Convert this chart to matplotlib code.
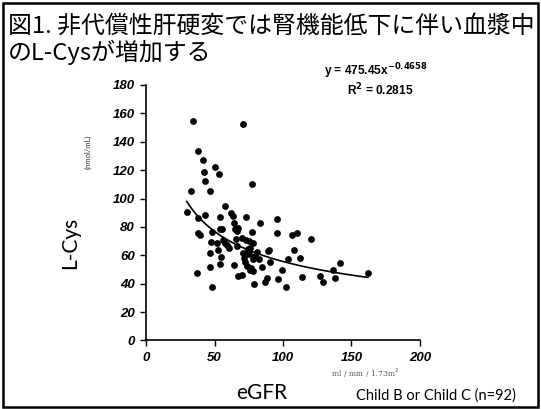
import numpy as np
import matplotlib
matplotlib.use("Agg")
import matplotlib.pyplot as plt
from matplotlib.patches import Rectangle

# eGFR (ml/min/1.73m2) and plasma L-Cys (nmol/mL)
egfr = [29.7, 32.8, 37.0, 37.7, 38.2, 39.2, 42.3, 43.3, 42.8, 46.5,
        46.7, 46.7, 47.4, 48.2, 48.4, 51.6, 52.8, 53.5, 54.0, 53.8,
        54.5, 54.0, 55.5, 56.0, 57.7, 57.4, 58.9, 60.8, 62.0, 63.3,
        64.5, 64.7, 66.2, 64.5, 65.7, 67.2, 67.2, 69.8, 70.1, 70.6,
        71.5, 72.3, 72.8, 73.0, 73.5, 74.2, 75.0, 75.4, 75.9, 76.6,
        77.2, 77.6, 78.3, 78.3, 78.8, 79.6, 80.8, 82.7, 83.2, 84.4,
        86.9, 88.5, 88.8, 89.6, 90.5, 95.8, 95.4, 96.4, 99.1, 102.2,
        103.9, 106.8, 108.0, 110.0, 112.4, 113.6, 120.4, 127.0, 129.0, 136.7,
        137.7, 141.8, 162.0, 34.5, 70.6, 37.7, 41.6, 50.4, 75.4, 78.3,
        66.6, 76.0]
lcys = [90.6, 105.5, 47.2, 86.4, 76.0, 74.1, 118.6, 112.6, 88.3, 105.1,
        61.3, 51.9, 69.4, 37.7, 76.5, 68.9, 63.7, 117.4, 87.1, 78.4,
        58.7, 54.0, 78.4, 70.8, 94.5, 68.9, 67.0, 65.4, 89.7, 87.8,
        83.1, 78.4, 77.2, 53.5, 71.3, 78.9, 45.2, 46.2, 72.5, 61.8,
        58.3, 55.2, 86.7, 70.8, 52.3, 64.2, 70.1, 60.6, 50.0, 51.2,
        76.7, 110.1, 48.8, 68.9, 39.9, 59.4, 62.3, 57.6, 82.6, 51.9,
        41.0, 44.1, 63.0, 63.5, 55.2, 85.5, 75.5, 43.4, 50.0, 37.7,
        57.1, 74.1, 63.7, 75.5, 58.3, 44.8, 71.3, 45.2, 41.0, 49.5,
        43.8, 54.3, 47.7, 154.6, 152.3, 133.5, 127.5, 122.1, 63.5, 57.1,
        66.5, 65.0]

# power fit shown on the chart
fit_a = 475.45
fit_b = -0.4658
r2 = 0.2815

xticks = [0, 50, 100, 150, 200]
yticks = [0, 20, 40, 60, 80, 100, 120, 140, 160, 180]

fig = plt.figure(figsize=(5.41, 4.09), dpi=100)
fig.patches.append(Rectangle((0.006, 0.006), 0.988, 0.986, transform=fig.transFigure,
                             fill=False, edgecolor="black", linewidth=1.8))

jp = ["Noto Sans CJK JP", "DejaVu Sans"]
fig.text(0.015, 0.935, "図1. 非代償性肝硬変では腎機能低下に伴い血漿中",
         fontsize=17.2, family=jp, va="center", ha="left")
fig.text(0.015, 0.872, "のL-Cysが増加する",
         fontsize=17.2, family=jp, va="center", ha="left")

ax = fig.add_axes([0.270, 0.1675, 0.506, 0.6247])
ax.scatter(egfr, lcys, s=24, color="black", zorder=3, linewidths=0)
xs = np.linspace(min(egfr), max(egfr), 200)
ax.plot(xs, fit_a * xs ** fit_b, color="black", linewidth=1.2)

ax.set_xlim(0, 200)
ax.set_ylim(0, 180)
ax.set_xticks(xticks)
ax.set_yticks(yticks)
for s in ["top", "right"]:
    ax.spines[s].set_visible(False)
for s in ["left", "bottom"]:
    ax.spines[s].set_linewidth(1.2)
ax.tick_params(direction="out", length=4, width=1.0, pad=4)
for lab in ax.get_xticklabels() + ax.get_yticklabels():
    lab.set_family("Liberation Sans")
    lab.set_fontweight("bold")
    lab.set_fontstyle("italic")
    lab.set_fontsize(9.5)

fig.text(0.695, 0.826, r"y = 475.45x$^{\mathbf{-0.4658}}$", fontsize=8.6, fontweight="bold",
         family="Liberation Sans", ha="center", va="center")
fig.text(0.703, 0.780, r"R$^{\mathbf{2}}$ = 0.2815", fontsize=8.6, fontweight="bold",
         family="Liberation Sans", ha="center", va="center")

fig.text(0.130, 0.405, "L-Cys", fontsize=15, family="Lato", rotation=90,
         ha="center", va="center")
fig.text(0.163, 0.628, "(nmol/mL)", fontsize=5.5, family="Lato", rotation=90,
         ha="center", va="center", color="#333333")
fig.text(0.484, 0.038, "eGFR", fontsize=15, family="Lato", ha="center", va="center")
fig.text(0.675, 0.088, "ml / min / 1.73m$^2$", fontsize=5.5, family="DejaVu Serif",
         ha="center", va="center", color="#555555")
fig.text(0.805, 0.034, "Child B or Child C (n=92)", fontsize=10.5, family="Lato",
         ha="center", va="center")

fig.savefig("out.png", dpi=100)
